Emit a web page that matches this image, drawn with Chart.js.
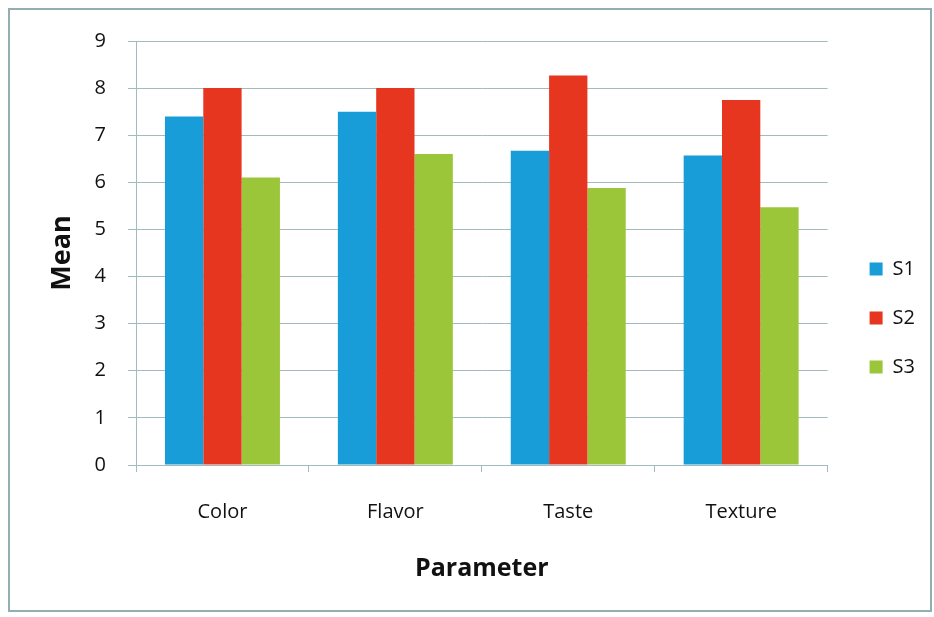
<!DOCTYPE html>
<html>
<head>
<meta charset="utf-8">
<title>Mean sensory scores by parameter</title>
<script src="https://cdn.jsdelivr.net/npm/chart.js@4.4.1/dist/chart.umd.min.js"></script>
<style>
  html, body { margin: 0; padding: 0; background: #ffffff; }
  #wrap { position: relative; width: 934px; height: 617px; }
  #chart { position: absolute; left: 0; top: 0; }
  #frame {
    position: absolute; left: 8px; top: 8px; width: 920px; height: 600px;
    border: 2px solid #93aeb2; pointer-events: none;
  }
</style>
</head>
<body>
<div id="wrap">
  <canvas id="chart" width="934" height="617"></canvas>
  <div id="frame"></div>
</div>
<script>
// Sensory attributes on the x axis
const categories = ['Color', 'Flavor', 'Taste', 'Texture'];

// Mean scores for each sample
const s1Values = [7.4, 7.5, 6.67, 6.57];
const s2Values = [8.0, 8.0, 8.27, 7.75];
const s3Values = [6.1, 6.6, 5.88, 5.47];

const seriesNames = ['S1', 'S2', 'S3'];
const seriesColors = ['#189dd8', '#e6361f', '#9cc63a'];

// Value axis ticks
const yTicks = [0, 1, 2, 3, 4, 5, 6, 7, 8, 9];

const gridColor = '#a2bbbf';
const textColor = '#111111';
const baseFont = 'Open Sans';

const seriesValues = [s1Values, s2Values, s3Values];

new Chart(document.getElementById('chart'), {
  type: 'bar',
  data: {
    labels: categories,
    datasets: seriesNames.map((name, i) => ({
      label: name,
      data: seriesValues[i],
      backgroundColor: seriesColors[i],
      borderWidth: 0,
      categoryPercentage: 0.665,
      barPercentage: 1.0
    }))
  },
  options: {
    responsive: false,
    animation: false,
    layout: { padding: { left: 10, top: 41, right: 9, bottom: 22 } },
    plugins: {
      legend: {
        position: 'right',
        align: 'center',
        labels: {
          boxWidth: 13,
          boxHeight: 13,
          padding: 29,
          color: textColor,
          font: { family: baseFont, size: 20 }
        }
      },
      tooltip: { enabled: false }
    },
    scales: {
      x: {
        offset: true,
        grid: {
          display: true,
          drawOnChartArea: false,
          drawTicks: true,
          tickLength: 7,
          color: gridColor,
          offset: true
        },
        border: { display: true, color: gridColor, width: 1 },
        ticks: {
          padding: 28,
          color: textColor,
          font: { family: baseFont, size: 20 }
        },
        title: {
          display: true,
          text: 'Parameter',
          color: textColor,
          font: { family: baseFont, size: 25, weight: 'bold' },
          padding: { top: 0, bottom: 11 }
        },
        afterFit: (s) => { s.height = 130; }
      },
      y: {
        min: 0,
        max: 9,
        afterBuildTicks: (s) => { s.ticks = yTicks.map(v => ({ value: v })); },
        grid: {
          color: gridColor,
          lineWidth: 1,
          drawTicks: true,
          tickLength: 8
        },
        border: { display: true, color: gridColor, width: 1 },
        ticks: {
          padding: 22,
          color: textColor,
          font: { family: baseFont, size: 20 }
        },
        title: {
          display: true,
          text: 'Mean',
          color: textColor,
          font: { family: baseFont, size: 27, weight: 'bold' },
          padding: { top: 36, bottom: 0 }
        },
        afterFit: (s) => { s.width = 126; }
      },
      gap: {
        axis: 'y',
        type: 'linear',
        position: 'right',
        display: true,
        grid: { display: false },
        border: { display: false },
        ticks: { display: false },
        afterFit: (s) => { s.width = 13; }
      }
    }
  }
});
</script>
</body>
</html>
